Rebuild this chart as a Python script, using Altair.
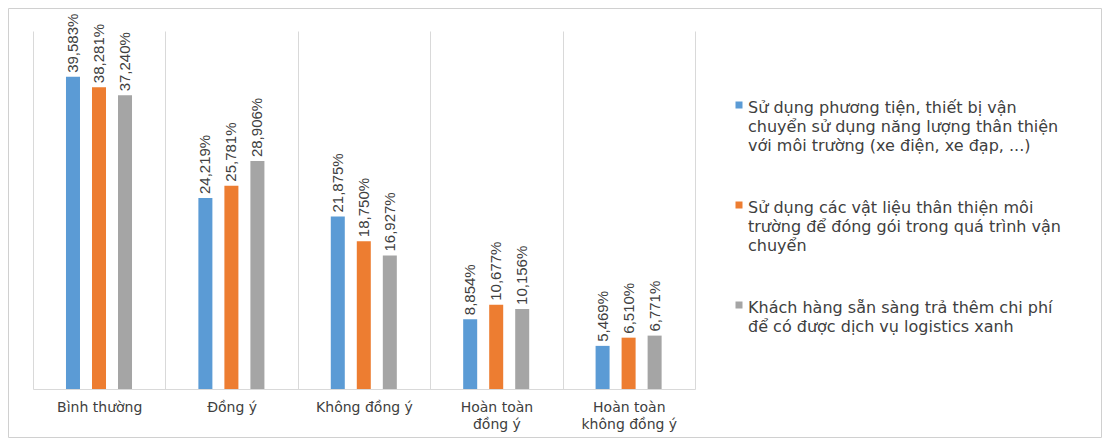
import altair as alt
import pandas as pd

categories = ["Bình thường", "Đồng ý", "Không đồng ý", "Hoàn toàn\nđồng ý", "Hoàn toàn\nkhông đồng ý"]
series = [
    "Sử dụng phương tiện, thiết bị vận\nchuyển sử dụng năng lượng thân thiện\nvới môi trường (xe điện, xe đạp, ...)",
    "Sử dụng các vật liệu thân thiện môi\ntrường để đóng gói trong quá trình vận\nchuyển",
    "Khách hàng sẵn sàng trả thêm chi phí\nđể có được dịch vụ logistics xanh",
]
s1 = [39.583, 24.219, 21.875, 8.854, 5.469]
s2 = [38.281, 25.781, 18.750, 10.677, 6.510]
s3 = [37.240, 28.906, 16.927, 10.156, 6.771]
colors = ["#5B9BD5", "#ED7D31", "#A5A5A5"]

rows = []
for name, vals in zip(series, [s1, s2, s3]):
    for c, v in zip(categories, vals):
        rows.append({"category": c, "series": name, "value": v,
                     "label": f"{v:.3f}".replace(".", ",") + "%"})
df = pd.DataFrame(rows)
leg_df = pd.DataFrame({"series": series})

FONT = "Liberation Sans"
TXT = "#404040"
W, H = 662, 358

x = alt.X("category:N", sort=categories,
          scale=alt.Scale(paddingInner=0, paddingOuter=0),
          axis=alt.Axis(title=None, labelAngle=0, ticks=False, grid=True, tickBand="extent",
                        gridColor="#D9D9D9", domainColor="#D9D9D9",
                        labelExpr="split(datum.label, '\\n')", labelFont="DejaVu Sans",
                        labelFontSize=14, labelColor=TXT, labelPadding=11, labelLineHeight=17))
xoff = alt.XOffset("series:N", sort=series,
                   scale=alt.Scale(range=[27, 105], paddingInner=0.4615, paddingOuter=0.23))
y = alt.Y("value:Q", scale=alt.Scale(domain=[0, 45.4], nice=False), axis=None)
color = alt.Color("series:N", sort=series, scale=alt.Scale(domain=series, range=colors),
                  legend=None)

base = alt.Chart(df)
bars = base.mark_bar().encode(x=x, xOffset=xoff, y=y, color=color)
labels = base.mark_text(angle=270, align="left", baseline="middle", dx=4, font=FONT,
                        fontSize=15, color=TXT).encode(x=x, xOffset=xoff, y=y, text="label:N")

# legend (drawn as marks so that multi-line labels get Excel-like line spacing)
ly = alt.Y("series:N", sort=series,
           scale=alt.Scale(type="point", domain=series, range=[74, 274], padding=0), axis=None)
leg_sq = alt.Chart(leg_df).mark_square(size=49, opacity=1, filled=True).encode(
    x=alt.value(706), y=ly, color=color)
leg_txt = alt.Chart(leg_df).mark_text(align="left", baseline="alphabetic", dy=8,
                                      lineBreak="\n", lineHeight=19, font="DejaVu Sans",
                                      fontSize=16, color=TXT).encode(
    x=alt.value(715), y=ly, text="series:N")

frame = alt.Chart(pd.DataFrame({"f": [0]})).mark_rect(fillOpacity=0, stroke="#D0D0D0",
                                                      strokeWidth=1).encode(
    x=alt.value(-24.5), x2=alt.value(W + 406.5), y=alt.value(-22.5), y2=alt.value(H + 48.5))

chart = alt.layer(frame, bars, labels, leg_sq, leg_txt).resolve_scale(y="independent").properties(
    width=W, height=H, autosize="none",
    padding={"left": 25, "top": 23, "right": 407, "bottom": 49},
    background="white",
).configure_view(stroke=None)

chart.save("out.html", embed_options={"renderer": "svg", "actions": False})
